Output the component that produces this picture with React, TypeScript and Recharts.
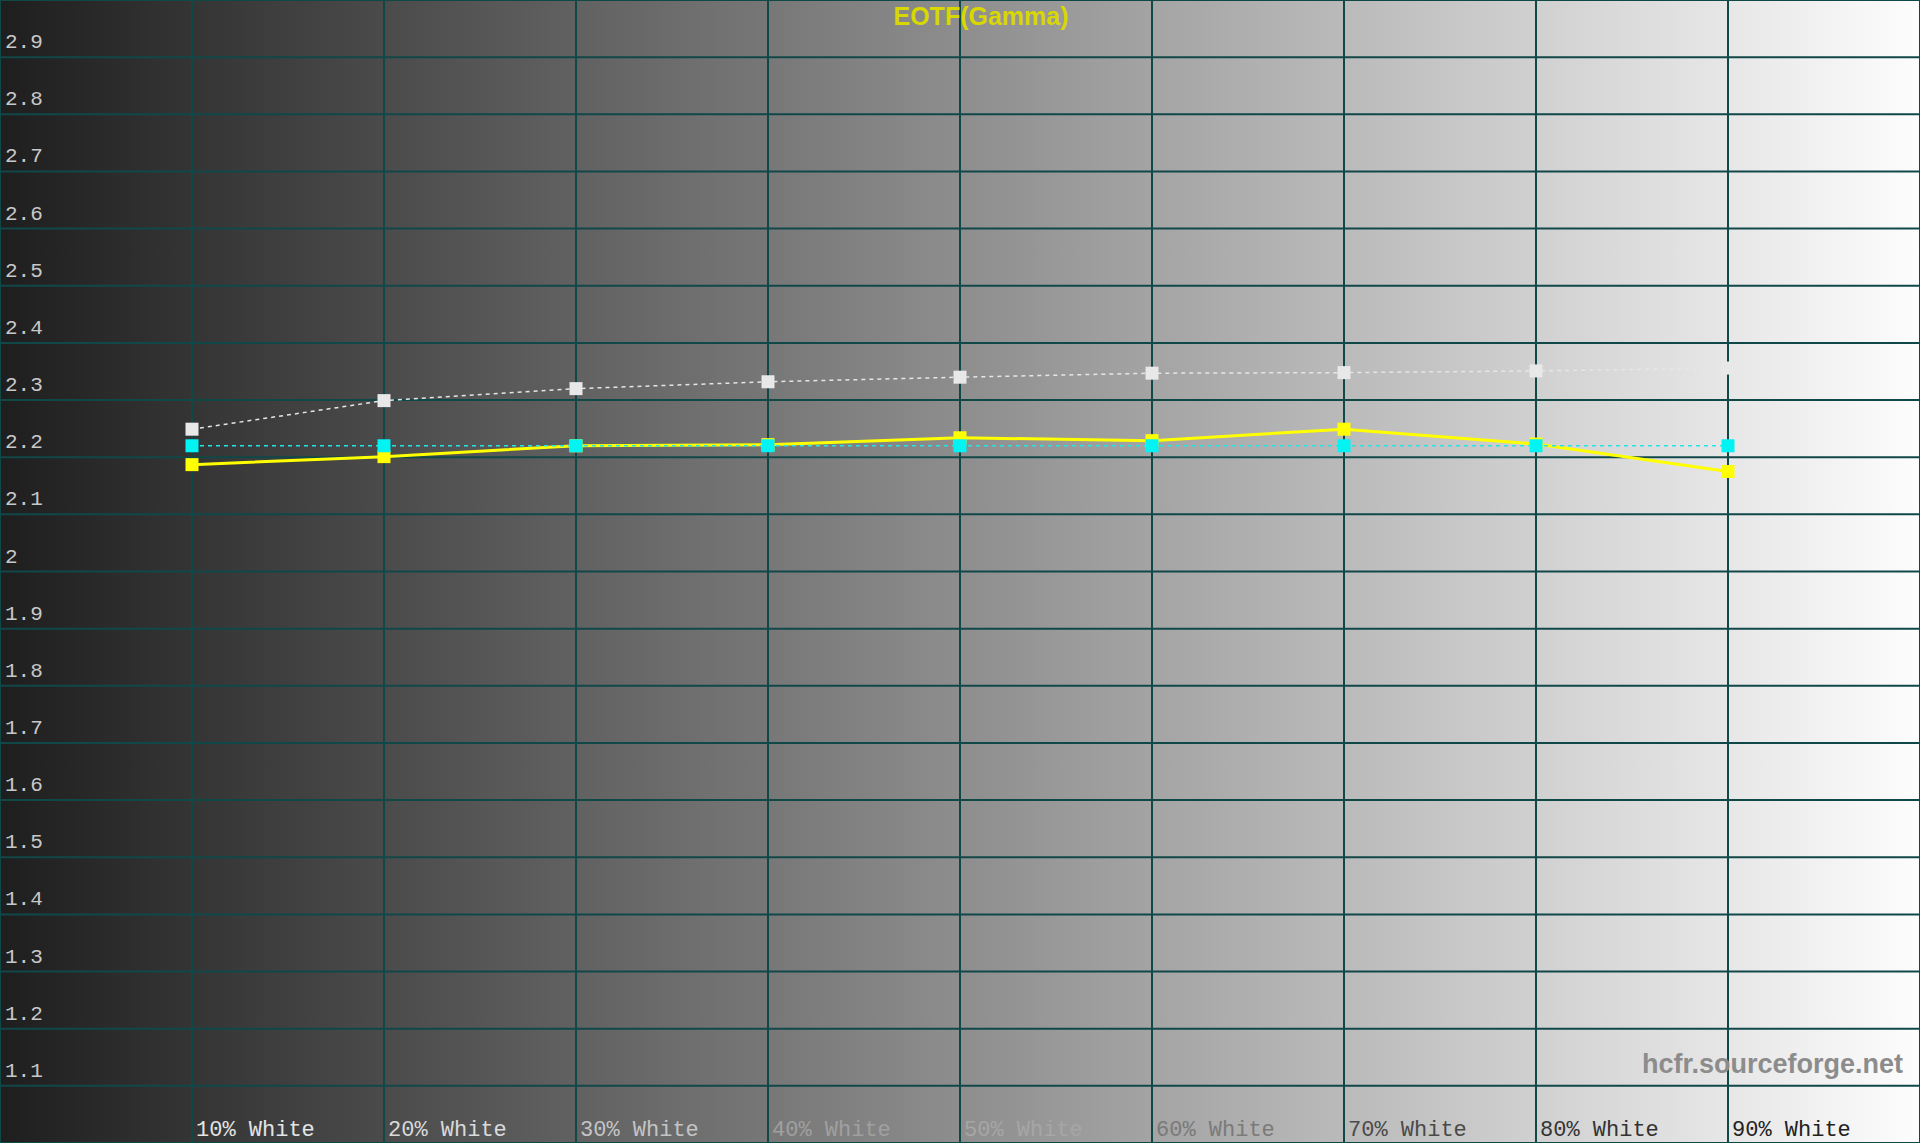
import React from "react";
import { CartesianGrid, Line, LineChart, XAxis, YAxis } from "recharts";

const levels = [10, 20, 30, 40, 50, 60, 70, 80, 90];
const levelLabels = [
  "10% White",
  "20% White",
  "30% White",
  "40% White",
  "50% White",
  "60% White",
  "70% White",
  "80% White",
  "90% White",
];
const labelColors = [
  "#e4e4e4",
  "#dadada",
  "#c4c4c4",
  "#a0a0a0",
  "#a6a6a6",
  "#7a7a7a",
  "#4a4a4a",
  "#333333",
  "#222222",
];
const measuredGamma = [2.187, 2.201, 2.22, 2.222, 2.234, 2.229, 2.249, 2.223, 2.175];
const targetGamma = [2.22, 2.22, 2.22, 2.22, 2.22, 2.22, 2.22, 2.22, 2.22];
const whiteGamma = [2.249, 2.299, 2.32, 2.332, 2.34, 2.347, 2.348, 2.351, 2.356];
const yTicks = [
  1.1, 1.2, 1.3, 1.4, 1.5, 1.6, 1.7, 1.8, 1.9, 2, 2.1, 2.2, 2.3, 2.4, 2.5, 2.6,
  2.7, 2.8, 2.9,
];

const data = levels.map((level, i) => ({
  level,
  measured: measuredGamma[i],
  target: targetGamma[i],
  white: whiteGamma[i],
}));

const W = 1920;
const H = 1143;

const square = (fill: string) => (props: any) => {
  const { cx, cy, index } = props;
  if (cx == null || cy == null) return <g key={index} />;
  return (
    <rect key={index} x={cx - 6.5} y={cy - 6.5} width={13} height={13} fill={fill} />
  );
};

const XTick = (props: any) => {
  const { x, payload } = props;
  const i = levels.indexOf(payload.value);
  return (
    <text
      x={x + 4}
      y={1136}
      fill={labelColors[i]}
      fontFamily="'Liberation Mono', monospace"
      fontSize={22}
      textAnchor="start"
    >
      {levelLabels[i]}
    </text>
  );
};

const YTick = (props: any) => {
  const { y, payload } = props;
  return (
    <text
      x={5}
      y={y - 9}
      fill="#c8c8c8"
      fontFamily="'Liberation Mono', monospace"
      fontSize={21}
      textAnchor="start"
    >
      {String(payload.value)}
    </text>
  );
};

export default function App() {
  return (
    <div
      style={{
        position: "absolute",
        left: 0,
        top: 0,
        width: W,
        height: H,
        background: "linear-gradient(to right, #1e1e1e 0%, #fdfdfd 100%)",
        overflow: "hidden",
      }}
    >
      <LineChart
        width={W}
        height={H}
        data={data}
        margin={{ top: 0, right: 0, bottom: 0, left: 0 }}
      >
        <CartesianGrid stroke="#104848" strokeWidth={2} />
        <XAxis
          dataKey="level"
          type="number"
          domain={[0, 100]}
          ticks={levels}
          interval={0}
          height={40}
          mirror
          axisLine={false}
          tickLine={false}
          tick={<XTick />}
        />
        <YAxis
          type="number"
          domain={[1, 3]}
          ticks={yTicks}
          interval={0}
          width={60}
          mirror
          axisLine={false}
          tickLine={false}
          tick={<YTick />}
        />
        <Line
          dataKey="white"
          stroke="#e6e6e6"
          strokeWidth={1.5}
          strokeDasharray="4 4"
          dot={square("#e8e8e8")}
          activeDot={false}
          isAnimationActive={false}
        />
        <Line
          dataKey="measured"
          stroke="#ffff00"
          strokeWidth={3}
          dot={square("#ffff00")}
          activeDot={false}
          isAnimationActive={false}
        />
        <Line
          dataKey="target"
          stroke="#22e6e6"
          strokeWidth={1.5}
          strokeDasharray="4 4"
          dot={square("#00f4f4")}
          activeDot={false}
          isAnimationActive={false}
        />
        <text
          x={981}
          y={25}
          textAnchor="middle"
          fill="#d8d800"
          fontFamily="'Liberation Sans', Arial, sans-serif"
          fontWeight="bold"
          fontSize={25}
        >
          EOTF(Gamma)
        </text>
        <text
          x={1903}
          y={1073}
          textAnchor="end"
          fill="#8c8c8c"
          fontFamily="'Liberation Sans', Arial, sans-serif"
          fontWeight="bold"
          fontSize={27}
        >
          hcfr.sourceforge.net
        </text>
      </LineChart>
    </div>
  );
}
